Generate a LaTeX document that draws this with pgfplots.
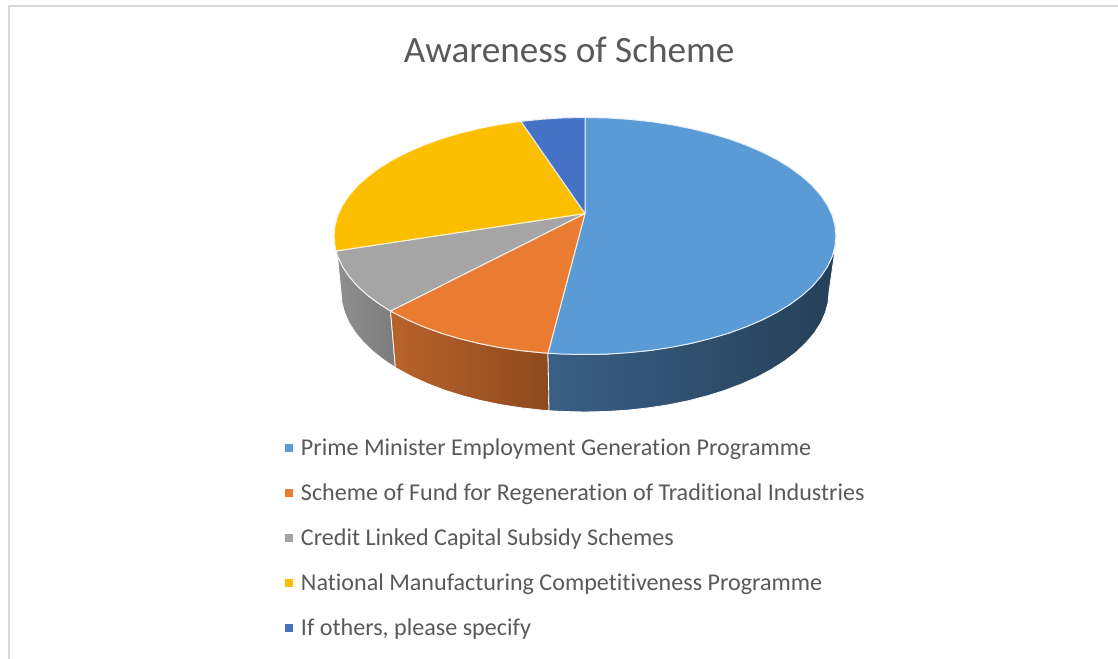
\documentclass[border=0pt]{standalone}
\usepackage{fontspec}
\setmainfont{Carlito}[Ligatures=NoCommon]
\usepackage{pgfplots}
\pgfplotsset{compat=1.18}
\definecolor{txt}{HTML}{595959}
\definecolor{frame}{HTML}{D9D9D9}
\definecolor{sliceA}{HTML}{5B9BD5}
\definecolor{sliceB}{HTML}{EA7C31}
\definecolor{sliceC}{HTML}{A5A5A5}
\definecolor{sliceD}{HTML}{FBBE00}
\definecolor{sliceE}{HTML}{4472C4}
\begin{document}
\begin{tikzpicture}
\begin{axis}[
    scale only axis, width=1118pt, height=658pt,
    xmin=0, xmax=1118, ymin=0, ymax=658, y dir=reverse,
    axis lines=none, clip=true,
    title={Awareness of Scheme},
    title style={at={(axis description cs:0.509,0.915)}, anchor=center,
        font=\fontsize{37.2}{42}\selectfont, text=txt},
    legend image code/.code={\fill[#1,draw=none] (0pt,-1pt) rectangle (8pt,7pt);},
    legend style={at={(axis description cs:0.2549,0.332)}, anchor=north west,
        draw=none, fill=none, inner sep=0pt, outer sep=0pt,
        row sep=23pt, column sep=0pt,
        font=\fontsize{24.1}{28}\selectfont, text=txt,
        nodes={inner sep=0pt, outer sep=0pt, text height=16pt, text depth=6pt},
        /tikz/every odd column/.append style={column sep=8pt}},
    legend cell align=left,
]
% outer frame
\addplot[draw=frame, line width=2pt, forget plot] coordinates {(9,659) (9,6) (1119,6)};

% side walls
\addplot[shade, left color={rgb,255:red,143;green,143;blue,143}, right color={rgb,255:red,124;green,124;blue,124}, draw=white, line width=0.8pt, forget plot] coordinates {
    (337,251) (341,292) (341.9,302.5) (344.7,312.8) (349.3,323.1) (355.7,333) (363.9,342.7) (373.7,352)
    (385.1,360.8) (395.4,367.5)
    (390.5,311) (379.4,304) (367.6,295.3) (357.5,286.1) (349.1,276.5) (342.6,266.7) (337.8,256.6) (337,251)};
\addplot[shade, left color={rgb,255:red,185;green,98;blue,44}, right color={rgb,255:red,141;green,74;blue,28}, draw=white, line width=0.8pt, forget plot] coordinates {
    (390.5,311) (395.4,367.5) (398.1,369.1) (412.5,376.9) (428.2,383.9) (445,390.3) (463,395.9) (481.9,400.8)
    (501.5,404.8) (521.9,407.9) (542.6,410.2) (549,410.7)
    (548,353.2) (541.4,352.7) (520,350.5) (499.2,347.4) (478.9,343.4) (459.5,338.6) (441,333.1) (423.7,326.8)
    (407.5,319.8) (392.7,312.2) (390.5,311)};
\addplot[shade, left color={rgb,255:red,58;green,95;blue,133}, middle color={rgb,255:red,37;green,64;blue,88}, right color={rgb,255:red,37;green,64;blue,88}, draw=white, line width=0.8pt, forget plot] coordinates {
    (548,353.2) (549,410.7) (563.7,411.5) (585,412) (606.3,411.5) (627.4,410.2) (648.1,407.9) (668.5,404.8)
    (688.1,400.8) (707,395.9) (725,390.3) (741.8,383.9) (757.5,376.9) (771.9,369.1) (784.9,360.8) (796.3,352)
    (806.1,342.7) (814.3,333) (820.7,323.1) (825.3,312.8) (828.1,302.5) (829,292) (835,250)
    (827.4,266.7) (812.5,286.1) (790.6,304) (762.5,319.8) (729,333.1) (691.1,343.4) (650,350.5)
    (606.9,354.1) (585,354.5) (548,353.2)};

% top faces
\addplot[fill=sliceA, draw=white!85!sliceA, line width=1pt, line join=round] coordinates {
    (585,213.5) (585,117.5) (606.9,117.9) (628.6,119.3) (650,121.5) (670.8,124.6) (691.1,128.6) (710.5,133.4)
    (729,138.9) (746.3,145.2) (762.5,152.2) (777.3,159.8) (790.6,168) (802.4,176.8) (812.5,185.9) (820.9,195.5)
    (827.4,205.3) (832.2,215.4) (835,225.7) (836,236) (835,246.3) (832.2,256.6) (827.4,266.7) (820.9,276.5)
    (812.5,286.1) (802.4,295.3) (790.6,304) (777.3,312.2) (762.5,319.8) (746.3,326.8) (729,333.1) (710.5,338.6)
    (691.1,343.4) (670.8,347.4) (650,350.5) (628.6,352.7) (606.9,354.1) (585,354.5) (563.1,354.1) (548,353.2)
    (585,213.5)};
\addlegendentry{Prime Minister Employment Generation Programme}
\addplot[fill=sliceB, draw=white!85!sliceB, line width=1pt, line join=round] coordinates {
    (585,213.5) (548,353.2) (541.4,352.7) (520,350.5) (499.2,347.4) (478.9,343.4) (459.5,338.6) (441,333.1)
    (423.7,326.8) (407.5,319.8) (392.7,312.2) (390.5,311) (585,213.5)};
\addlegendentry{Scheme of Fund for Regeneration of Traditional Industries}
\addplot[fill=sliceC, draw=white!85!sliceC, line width=1pt, line join=round] coordinates {
    (585,213.5) (390.5,311) (379.4,304) (367.6,295.3) (357.5,286.1) (349.1,276.5) (342.6,266.7) (337.8,256.6)
    (336,251) (585,213.5)};
\addlegendentry{Credit Linked Capital Subsidy Schemes}
\addplot[fill=sliceD, draw=white!85!sliceD, line width=1pt, line join=round] coordinates {
    (585,213.5) (336,251) (335,246.3) (334,236) (335,225.7) (337.8,215.4) (342.6,205.3) (349.1,195.5) (357.5,185.9)
    (367.6,176.8) (379.4,168) (392.7,159.8) (407.5,152.2) (423.7,145.2) (441,138.9) (459.5,133.4) (478.9,128.6)
    (499.2,124.6) (521,121.4) (585,213.5)};
\addlegendentry{National Manufacturing Competitiveness Programme}
\addplot[fill=sliceE, draw=white!85!sliceE, line width=1pt, line join=round] coordinates {
    (585,213.5) (521,121.4) (541.4,119.3) (563.1,117.9) (585,117.5) (585,213.5)};
\addlegendentry{If others, please specify}
\end{axis}
\path[use as bounding box] (current axis.south west) rectangle (current axis.north east);
\end{tikzpicture}
\end{document}
